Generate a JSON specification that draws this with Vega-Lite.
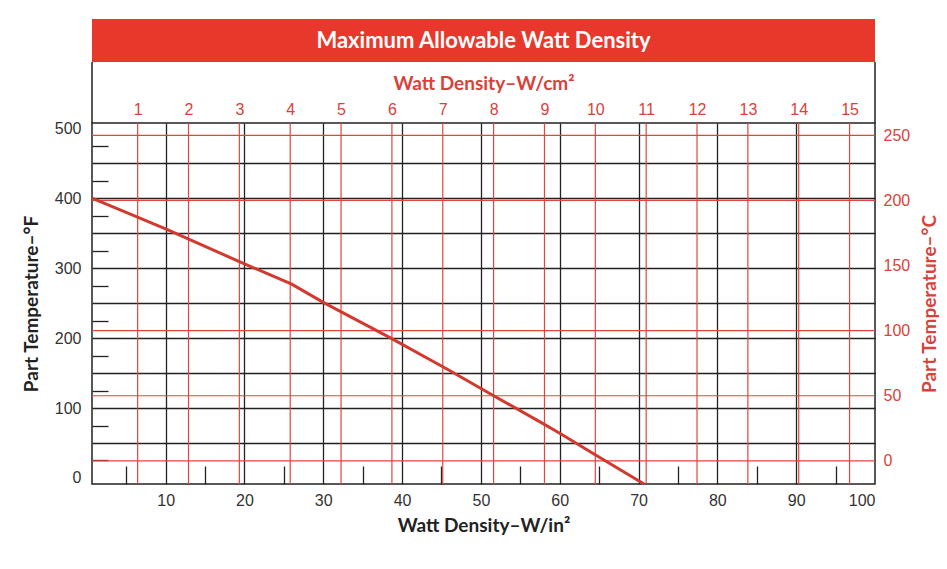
{
  "$schema": "https://vega.github.io/schema/vega-lite/v6.json",
  "background": "white",
  "padding": {"left": 21, "top": 19, "right": 5, "bottom": 5},
  "bounds": "flush",
  "spacing": 0,
  "config": {"font": "Liberation Sans"},
  "datasets": {
    "curve": [
      {"win": 0.66, "F": 400},
      {"win": 10, "F": 356},
      {"win": 20, "F": 306},
      {"win": 26, "F": 277},
      {"win": 30, "F": 251},
      {"win": 38.4, "F": 201},
      {"win": 45.8, "F": 155},
      {"win": 51.4, "F": 119},
      {"win": 58, "F": 77},
      {"win": 60, "F": 64},
      {"win": 64.4, "F": 34},
      {"win": 70.7, "F": -8.6}
    ],
    "celsius": [{"C": 0}, {"C": 50}, {"C": 100}, {"C": 200}, {"C": 250}],
    "wcm": [
      {"cm": 1}, {"cm": 2}, {"cm": 3}, {"cm": 4}, {"cm": 5},
      {"cm": 6}, {"cm": 7}, {"cm": 8}, {"cm": 9}, {"cm": 10},
      {"cm": 11}, {"cm": 12}, {"cm": 13}, {"cm": 14}, {"cm": 15}
    ],
    "header": [{"title": "Maximum Allowable Watt Density"}]
  },
  "vconcat": [
    {
      "width": 783,
      "height": 43,
      "view": {"fill": "#e8382c", "stroke": null},
      "data": {"name": "header"},
      "mark": {"type": "text", "color": "white", "font": "Lato", "fontWeight": "bold", "fontSize": 22},
      "encoding": {"text": {"field": "title", "type": "nominal"}}
    },
    {
      "width": 783,
      "height": 61,
      "view": {"stroke": "#222", "strokeWidth": 1.5, "strokeDash": [0, 783, 61, 783, 61, 0]},
      "data": {"name": "wcm"},
      "mark": {"type": "rule", "opacity": 0},
      "encoding": {
        "x": {
          "field": "cm",
          "type": "quantitative",
          "scale": {"domain": [0.1023, 15.5], "nice": false, "zero": false},
          "axis": {
            "orient": "top",
            "offset": -61,
            "values": [1, 2, 3, 4, 5, 6, 7, 8, 9, 10, 11, 12, 13, 14, 15],
            "domain": false,
            "ticks": false,
            "grid": false,
            "labelColor": "#d9423a",
            "labelFontSize": 16,
            "labelPadding": 6,
            "labelFlush": false,
            "labelOverlap": false,
            "title": "Watt Density–W/cm²",
            "titleColor": "#d9423a",
            "titleFont": "Lato",
            "titleFontSize": 19,
            "titleFontWeight": "bold",
            "titlePadding": 8
          }
        }
      }
    },
    {
      "width": 783,
      "height": 361,
      "view": {"stroke": "#222", "strokeWidth": 1.5},
      "layer": [
        {
          "data": {"name": "celsius"},
          "mark": {"type": "rule", "color": "#e0463c", "strokeWidth": 1.2},
          "encoding": {
            "y": {
              "field": "C",
              "type": "quantitative",
              "scale": {"domain": [-17.8, 259.5], "nice": false, "zero": false},
              "axis": {
                "orient": "right",
                "values": [0, 50, 100, 150, 200, 250],
                "domain": false,
                "ticks": false,
                "grid": false,
                "labelColor": "#d9423a",
                "labelFontSize": 16,
                "labelPadding": 8,
                "labelOverlap": false,
                "title": "Part Temperature–°C",
                "titleAngle": -90,
                "titleBaseline": "top",
                "titleColor": "#d9423a",
                "titleFont": "Lato",
                "titleFontSize": 19,
                "titleFontWeight": "bold",
                "titlePadding": 11
              }
            }
          }
        },
        {
          "data": {"name": "wcm"},
          "mark": {"type": "rule", "color": "#e0463c", "strokeWidth": 1.2},
          "encoding": {
            "x": {
              "field": "cm",
              "type": "quantitative",
              "scale": {"domain": [0.1023, 15.5], "nice": false, "zero": false},
              "axis": null
            }
          }
        },
        {
          "data": {"name": "curve"},
          "mark": {"type": "line", "color": "#d23a2f", "strokeWidth": 3},
          "encoding": {
            "x": {
              "field": "win",
              "type": "quantitative",
              "scale": {"domain": [0.66, 100], "nice": false, "zero": false},
              "axis": {
                "orient": "bottom",
                "values": [5, 10, 15, 20, 25, 30, 35, 40, 45, 50, 55, 60, 65, 70, 75, 80, 85, 90, 95, 100],
                "labelExpr": "datum.value % 10 == 0 ? datum.label : ''",
                "labelOverlap": false,
                "labelFlush": true,
                "labelFontSize": 16,
                "labelColor": "#333",
                "labelPadding": 26,
                "domain": false,
                "tickSize": -18,
                "tickColor": "#222",
                "tickWidth": 1.3,
                "tickOpacity": {"condition": {"test": "datum.value % 10 == 5", "value": 1}, "value": 0},
                "grid": true,
                "gridColor": "#222",
                "gridWidth": 1.3,
                "gridOpacity": {"condition": {"test": "datum.value % 10 == 0 && datum.value < 100", "value": 1}, "value": 0},
                "title": "Watt Density–W/in²",
                "titleColor": "#222",
                "titleFont": "Lato",
                "titleFontSize": 19,
                "titleFontWeight": "bold",
                "titlePadding": 8
              }
            },
            "y": {
              "field": "F",
              "type": "quantitative",
              "scale": {"domain": [-8.6, 507.3], "nice": false, "zero": false},
              "axis": {
                "orient": "left",
                "values": [0, 25, 50, 75, 100, 125, 150, 175, 200, 225, 250, 275, 300, 325, 350, 375, 400, 425, 450, 475, 500],
                "labelExpr": "datum.value % 100 == 0 ? datum.label : ''",
                "labelOverlap": false,
                "labelFontSize": 16,
                "labelColor": "#333",
                "labelPadding": 27,
                "domain": false,
                "tickSize": -16,
                "tickColor": "#222",
                "tickWidth": 1.3,
                "tickOpacity": {"condition": {"test": "datum.value % 50 == 25", "value": 1}, "value": 0},
                "grid": true,
                "gridColor": "#222",
                "gridWidth": 1.3,
                "gridOpacity": {"condition": {"test": "datum.value % 50 == 0 && datum.value > 0 && datum.value < 500", "value": 1}, "value": 0},
                "title": "Part Temperature–°F",
                "titleColor": "#222",
                "titleFont": "Lato",
                "titleFontSize": 19,
                "titleFontWeight": "bold",
                "titlePadding": 13
              }
            }
          }
        }
      ],
      "resolve": {
        "scale": {"x": "independent", "y": "independent"},
        "axis": {"x": "independent", "y": "independent"}
      }
    }
  ]
}
